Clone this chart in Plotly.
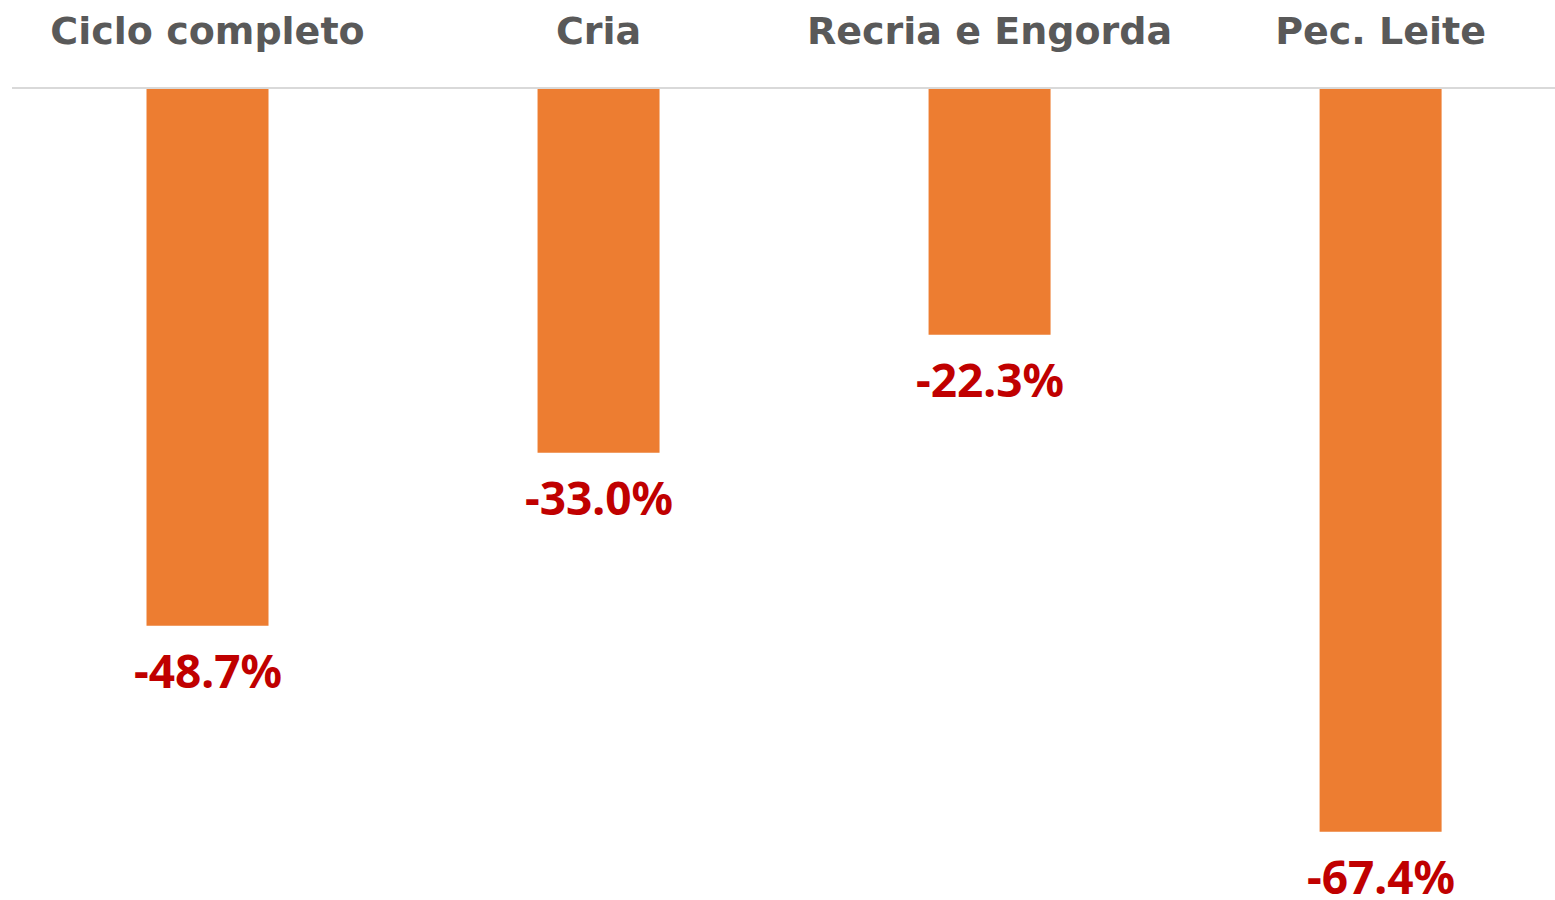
import plotly.graph_objects as go

categories = ["Ciclo completo", "Cria", "Recria e Engorda", "Pec. Leite"]
values = [-48.7, -33.0, -22.3, -67.4]
labels = ["-48.7%", "-33.0%", "-22.3%", "-67.4%"]

fig = go.Figure()
fig.add_trace(go.Bar(
    x=categories, y=values,
    marker=dict(color="#ED7D31", line=dict(width=0)),
    width=0.312,
    hoverinfo="skip",
))

for c, v, t in zip(categories, values, labels):
    fig.add_annotation(
        x=c, y=v, text=t, showarrow=False,
        yanchor="top", yshift=-11,
        font=dict(family="Noto Sans", size=46, color="#C00000", weight="bold"),
    )

fig.update_layout(
    width=1555, height=900,
    margin=dict(l=12, r=0, t=89, b=0),
    paper_bgcolor="white", plot_bgcolor="white",
    showlegend=False,
    xaxis=dict(
        side="top", range=[-0.5, 3.446],
        showline=True, linecolor="#D9D9D9", linewidth=2,
        ticks="outside", ticklen=28, tickcolor="rgba(0,0,0,0)",
        tickfont=dict(family="DejaVu Sans", size=38, color="#595959", weight="bold"),
        showgrid=False, zeroline=False,
    ),
    yaxis=dict(
        range=[-73.6, 0], visible=False, showgrid=False, zeroline=False,
    ),
)

fig.write_html(
    "out.html",
    config={"displayModeBar": False},
    post_script="document.body.style.margin='0';document.body.style.overflow='hidden';",
)
